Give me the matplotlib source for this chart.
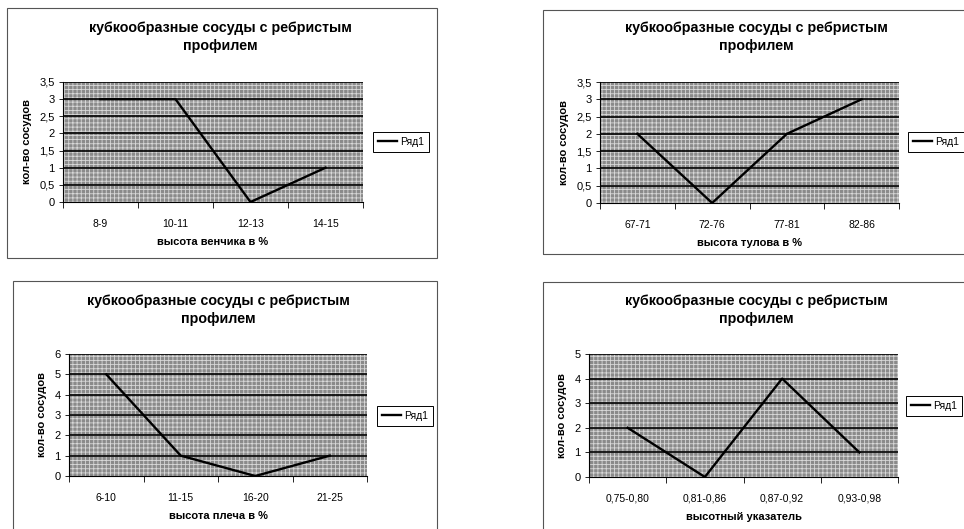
import numpy as np
import matplotlib
matplotlib.use("Agg")
import matplotlib.pyplot as plt
from matplotlib.patches import Rectangle

plt.rcParams['font.family'] = ['Liberation Sans', 'DejaVu Sans']
plt.rcParams['hatch.linewidth'] = 0.6

W, H = 964, 529
TITLE = "кубкообразные сосуды с ребристым\nпрофилем"
YLAB = "кол-во сосудов"

cats1 = ["8-9", "10-11", "12-13", "14-15"]
vals1 = [3, 3, 0, 1]
yt1 = [0, 0.5, 1, 1.5, 2, 2.5, 3, 3.5]

cats2 = ["67-71", "72-76", "77-81", "82-86"]
vals2 = [2, 0, 2, 3]
yt2 = [0, 0.5, 1, 1.5, 2, 2.5, 3, 3.5]

cats3 = ["6-10", "11-15", "16-20", "21-25"]
vals3 = [5, 1, 0, 1]
yt3 = [0, 1, 2, 3, 4, 5, 6]

cats4 = ["0,75-0,80", "0,81-0,86", "0,87-0,92", "0,93-0,98"]
vals4 = [2, 0, 4, 1]
yt4 = [0, 1, 2, 3, 4, 5]

xlabels = ["высота венчика в %", "высота тулова в %", "высота плеча в %", "высотный указатель"]

fig = plt.figure(figsize=(W / 100, H / 100), dpi=100)
fig.patch.set_facecolor('white')

def px(l, t, r, b):
    return [l / W, 1 - b / H, (r - l) / W, (b - t) / H]

# chart frames (pixel boxes)
frames = [(7, 8, 437, 258), (543, 10, 970, 254), (13, 281, 437, 535), (543, 282, 970, 535)]
for (l, t, r, b) in frames:
    fig.patches.append(Rectangle((l / W, 1 - b / H), (r - l) / W, (b - t) / H,
                                 transform=fig.transFigure, fill=False,
                                 edgecolor='#555555', lw=0.8))

plots = [(63, 82, 363, 202), (600, 82, 899, 203), (69, 354, 367, 476), (589, 354, 898, 477)]
titles_xy = [(220, 37), (756, 37), (218, 310), (756, 310)]
legx = [373, 908, 377, 906]
legy = [142, 142, 416, 406]
data = [(cats1, vals1, yt1), (cats2, vals2, yt2), (cats3, vals3, yt3), (cats4, vals4, yt4)]

def fmt(v):
    s = f"{v:g}"
    return s.replace('.', ',')

for i, ((cats, vals, yt), box) in enumerate(zip(data, plots)):
    ax = fig.add_axes(px(*box))
    ax.set_facecolor('#8a8a8a')
    ax.add_patch(Rectangle((0, 0), 1, 1, transform=ax.transAxes, facecolor='none',
                           edgecolor='#d8d8d8', lw=0, hatch='++++', zorder=0.5))
    x = np.arange(len(cats))
    for y in yt[1:]:
        ax.axhline(y, color='black', lw=1.2, zorder=1)
    ax.plot(x, vals, color='black', lw=1.7, zorder=3, label='Ряд1')
    ax.set_xlim(-0.5, len(cats) - 0.5)
    ax.set_ylim(yt[0], yt[-1])
    ax.set_yticks(yt)
    ax.set_yticklabels([fmt(v) for v in yt], fontsize=8)
    ax.set_xticks(x)
    ax.set_xticklabels(cats, fontsize=7.5)
    ax.tick_params(axis='x', length=0, pad=12)
    ax.set_xticks(np.arange(len(cats) + 1) - 0.5, minor=True)
    ax.tick_params(axis='x', which='minor', length=4, width=0.6)
    ax.tick_params(axis='y', length=3, width=0.6, pad=3)
    for s in ['top', 'right']:
        ax.spines[s].set_visible(False)
    for s in ['left', 'bottom']:
        ax.spines[s].set_linewidth(0.8)
    ax.set_xlabel(xlabels[i], fontsize=8, fontweight='bold', labelpad=6)
    ax.set_ylabel(YLAB, fontsize=8, fontweight='bold', labelpad=5)
    l, t, r, b = box
    leg = ax.legend(loc='center left',
                    bbox_to_anchor=((legx[i] - l) / (r - l), (b - legy[i]) / (b - t)),
                    borderaxespad=0, fancybox=False, edgecolor='black', fontsize=7.5,
                    handlelength=1.8, handletextpad=0.3, borderpad=0.5, framealpha=1)
    leg.get_frame().set_linewidth(0.7)
    tx, ty = titles_xy[i]
    fig.text(tx / W, 1 - ty / H, TITLE, ha='center', va='center', fontsize=10.3,
             fontweight='bold', linespacing=1.35)

fig.savefig("out.png", dpi=100)
